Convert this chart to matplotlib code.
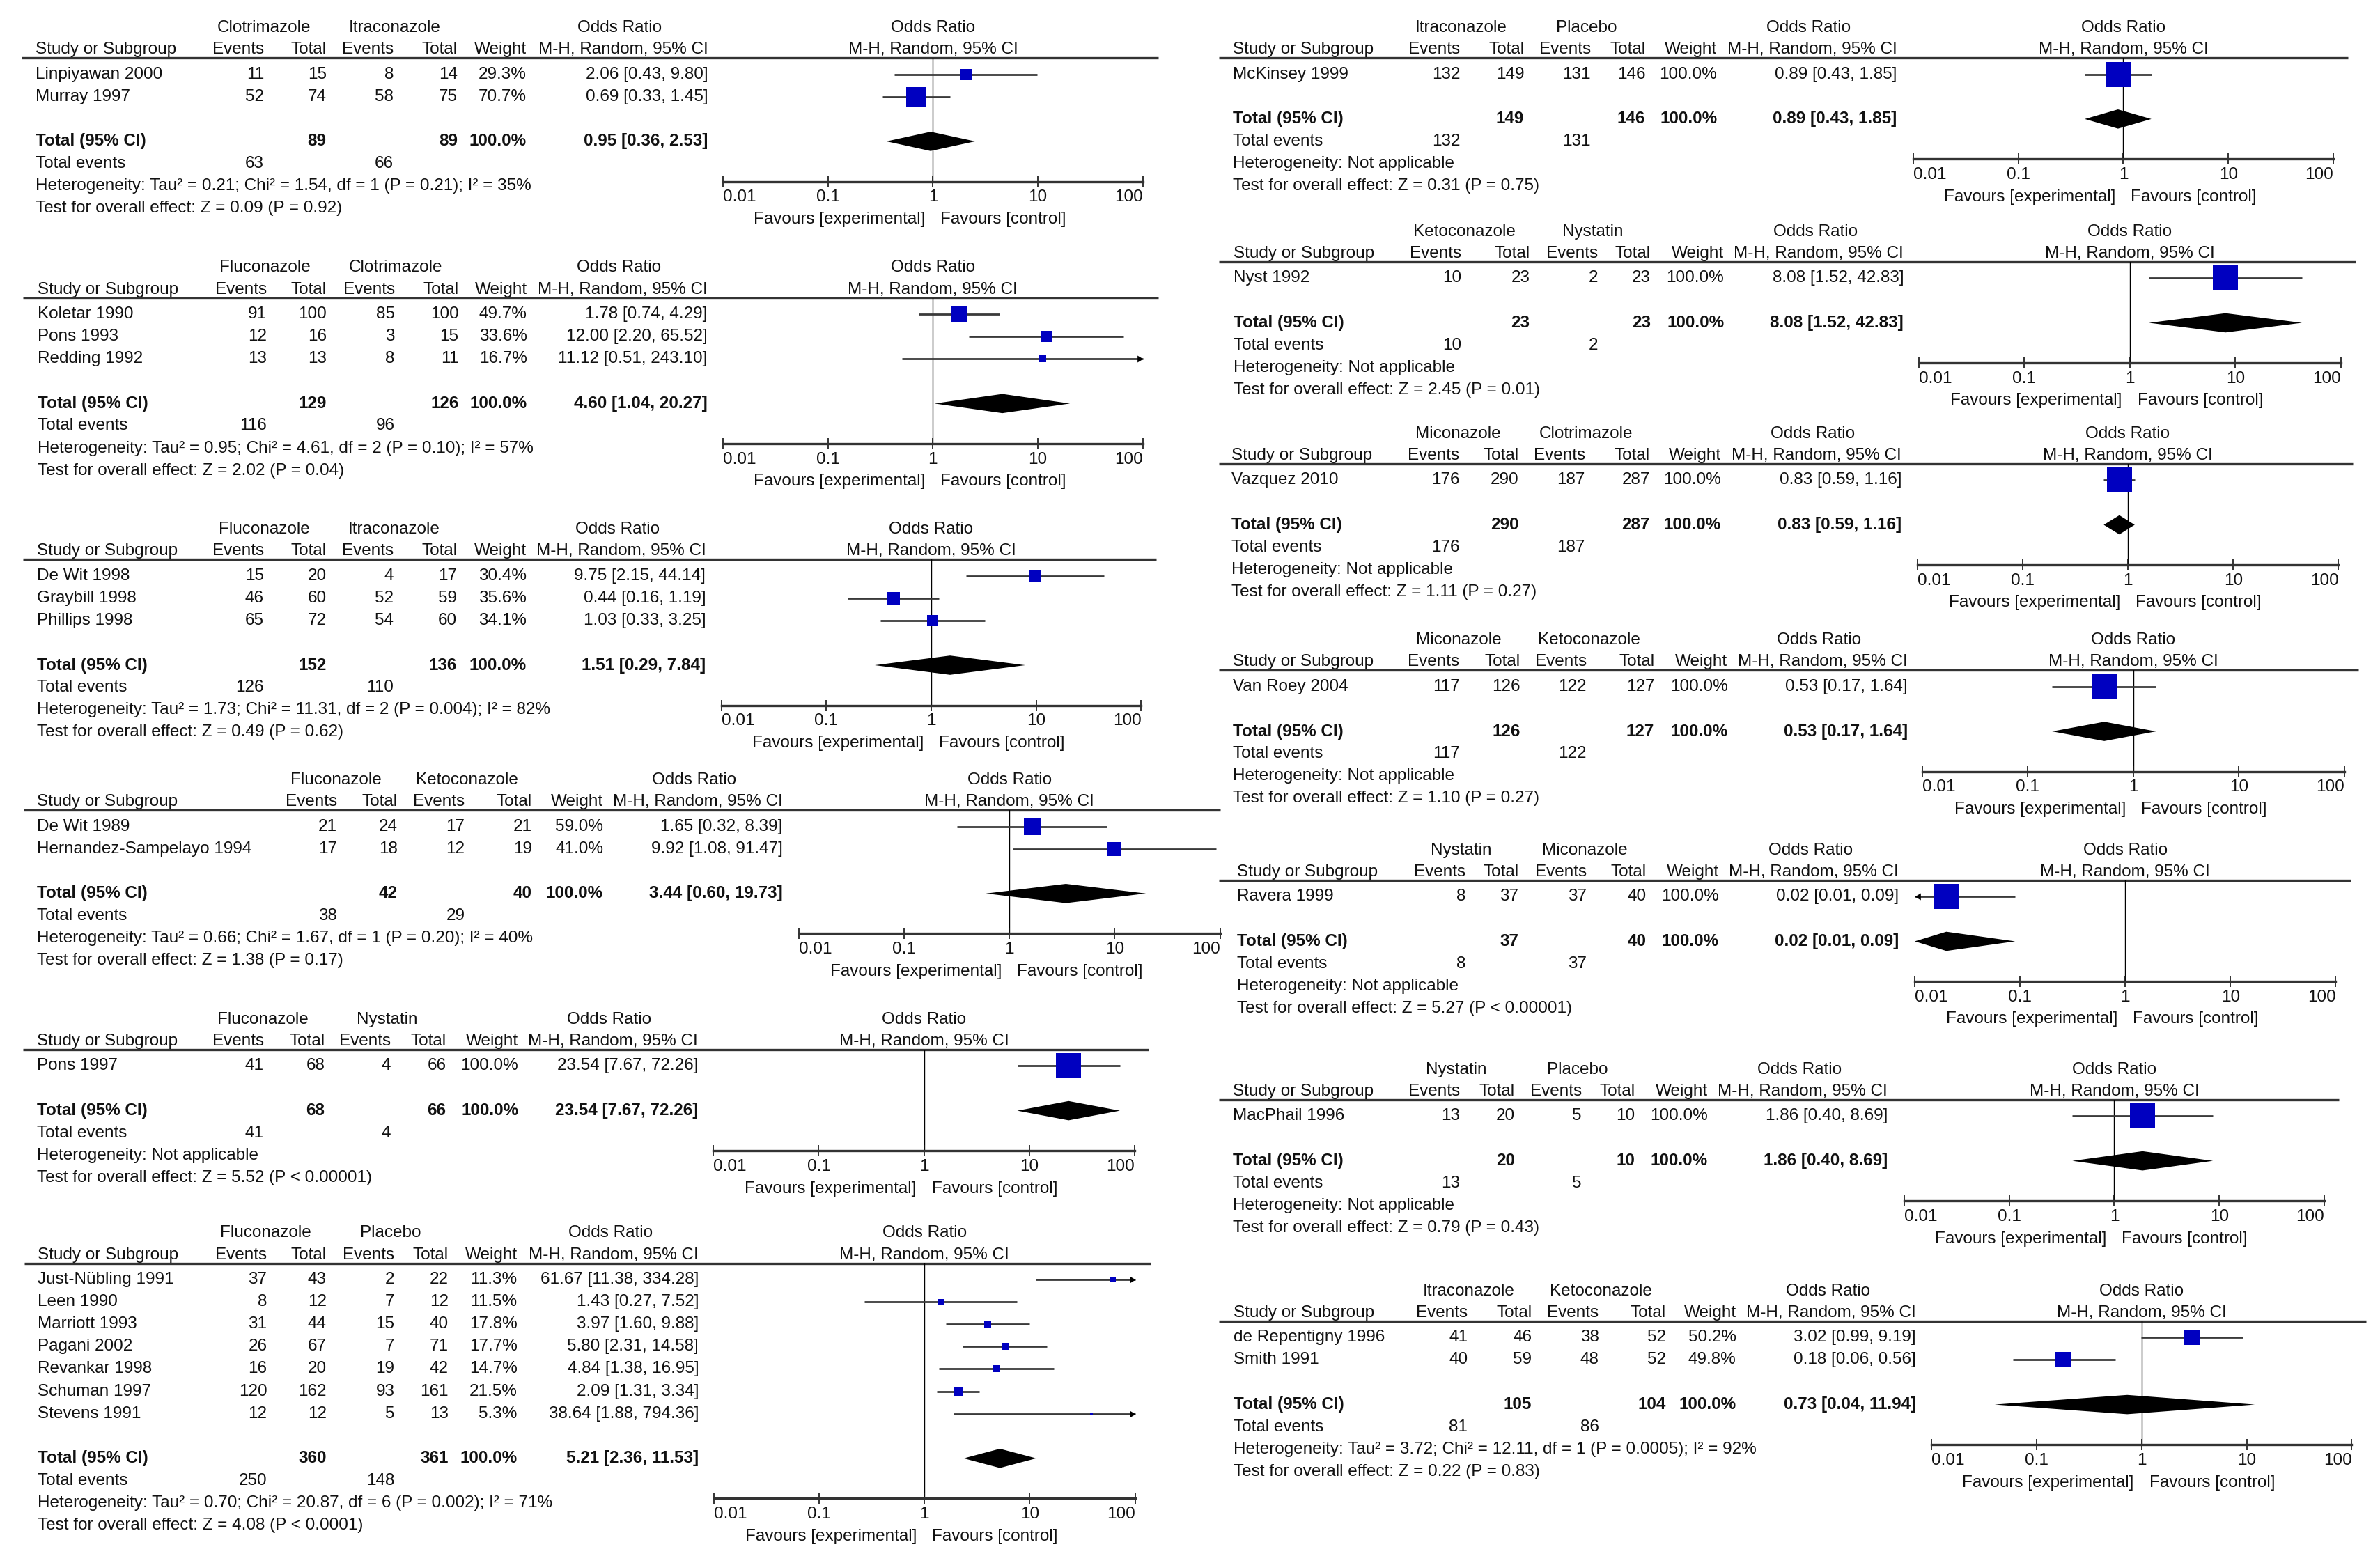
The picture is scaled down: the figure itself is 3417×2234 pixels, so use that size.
import numpy as np
import matplotlib
matplotlib.use("Agg")
import matplotlib.pyplot as plt
from matplotlib.patches import Polygon
from matplotlib.ticker import NullLocator

plt.rcParams["font.family"] = ["Liberation Sans", "DejaVu Sans"]
FS = 17.5
plt.rcParams["font.size"] = FS

# ---------------- data: one block per comparison ----------------
arms_1 = ["Clotrimazole", "Itraconazole"]
study_1 = ["Linpiyawan 2000", "Murray 1997"]
count_1 = [(11, 15, 8, 14), (52, 74, 58, 75)]
wt_1 = [29.3, 70.7]
or_1 = [(2.06, 0.43, 9.80), (0.69, 0.33, 1.45)]
pool_1 = (0.95, 0.36, 2.53)
het_1 = "Tau² = 0.21; Chi² = 1.54, df = 1 (P = 0.21); I² = 35%"
z_1 = "Z = 0.09 (P = 0.92)"

arms_2 = ["Fluconazole", "Clotrimazole"]
study_2 = ["Koletar 1990", "Pons 1993", "Redding 1992"]
count_2 = [(91, 100, 85, 100), (12, 16, 3, 15), (13, 13, 8, 11)]
wt_2 = [49.7, 33.6, 16.7]
or_2 = [(1.78, 0.74, 4.29), (12.00, 2.20, 65.52), (11.12, 0.51, 243.10)]
pool_2 = (4.60, 1.04, 20.27)
het_2 = "Tau² = 0.95; Chi² = 4.61, df = 2 (P = 0.10); I² = 57%"
z_2 = "Z = 2.02 (P = 0.04)"

arms_3 = ["Fluconazole", "Itraconazole"]
study_3 = ["De Wit 1998", "Graybill 1998", "Phillips 1998"]
count_3 = [(15, 20, 4, 17), (46, 60, 52, 59), (65, 72, 54, 60)]
wt_3 = [30.4, 35.6, 34.1]
or_3 = [(9.75, 2.15, 44.14), (0.44, 0.16, 1.19), (1.03, 0.33, 3.25)]
pool_3 = (1.51, 0.29, 7.84)
het_3 = "Tau² = 1.73; Chi² = 11.31, df = 2 (P = 0.004); I² = 82%"
z_3 = "Z = 0.49 (P = 0.62)"

arms_4 = ["Fluconazole", "Ketoconazole"]
study_4 = ["De Wit 1989", "Hernandez-Sampelayo 1994"]
count_4 = [(21, 24, 17, 21), (17, 18, 12, 19)]
wt_4 = [59.0, 41.0]
or_4 = [(1.65, 0.32, 8.39), (9.92, 1.08, 91.47)]
pool_4 = (3.44, 0.60, 19.73)
het_4 = "Tau² = 0.66; Chi² = 1.67, df = 1 (P = 0.20); I² = 40%"
z_4 = "Z = 1.38 (P = 0.17)"

arms_5 = ["Fluconazole", "Nystatin"]
study_5 = ["Pons 1997"]
count_5 = [(41, 68, 4, 66)]
wt_5 = [100.0]
or_5 = [(23.54, 7.67, 72.26)]
pool_5 = (23.54, 7.67, 72.26)
het_5 = None
z_5 = "Z = 5.52 (P < 0.00001)"

arms_6 = ["Fluconazole", "Placebo"]
study_6 = ["Just-Nübling 1991", "Leen 1990", "Marriott 1993", "Pagani 2002",
           "Revankar 1998", "Schuman 1997", "Stevens 1991"]
count_6 = [(37, 43, 2, 22), (8, 12, 7, 12), (31, 44, 15, 40), (26, 67, 7, 71),
           (16, 20, 19, 42), (120, 162, 93, 161), (12, 12, 5, 13)]
wt_6 = [11.3, 11.5, 17.8, 17.7, 14.7, 21.5, 5.3]
or_6 = [(61.67, 11.38, 334.28), (1.43, 0.27, 7.52), (3.97, 1.60, 9.88), (5.80, 2.31, 14.58),
        (4.84, 1.38, 16.95), (2.09, 1.31, 3.34), (38.64, 1.88, 794.36)]
pool_6 = (5.21, 2.36, 11.53)
het_6 = "Tau² = 0.70; Chi² = 20.87, df = 6 (P = 0.002); I² = 71%"
z_6 = "Z = 4.08 (P < 0.0001)"

arms_7 = ["Itraconazole", "Placebo"]
study_7 = ["McKinsey 1999"]
count_7 = [(132, 149, 131, 146)]
wt_7 = [100.0]
or_7 = [(0.89, 0.43, 1.85)]
pool_7 = (0.89, 0.43, 1.85)
het_7 = None
z_7 = "Z = 0.31 (P = 0.75)"

arms_8 = ["Ketoconazole", "Nystatin"]
study_8 = ["Nyst 1992"]
count_8 = [(10, 23, 2, 23)]
wt_8 = [100.0]
or_8 = [(8.08, 1.52, 42.83)]
pool_8 = (8.08, 1.52, 42.83)
het_8 = None
z_8 = "Z = 2.45 (P = 0.01)"

arms_9 = ["Miconazole", "Clotrimazole"]
study_9 = ["Vazquez 2010"]
count_9 = [(176, 290, 187, 287)]
wt_9 = [100.0]
or_9 = [(0.83, 0.59, 1.16)]
pool_9 = (0.83, 0.59, 1.16)
het_9 = None
z_9 = "Z = 1.11 (P = 0.27)"

arms_10 = ["Miconazole", "Ketoconazole"]
study_10 = ["Van Roey 2004"]
count_10 = [(117, 126, 122, 127)]
wt_10 = [100.0]
or_10 = [(0.53, 0.17, 1.64)]
pool_10 = (0.53, 0.17, 1.64)
het_10 = None
z_10 = "Z = 1.10 (P = 0.27)"

arms_11 = ["Nystatin", "Miconazole"]
study_11 = ["Ravera 1999"]
count_11 = [(8, 37, 37, 40)]
wt_11 = [100.0]
or_11 = [(0.02, 0.01, 0.09)]
pool_11 = (0.02, 0.01, 0.09)
het_11 = None
z_11 = "Z = 5.27 (P < 0.00001)"

arms_12 = ["Nystatin", "Placebo"]
study_12 = ["MacPhail 1996"]
count_12 = [(13, 20, 5, 10)]
wt_12 = [100.0]
or_12 = [(1.86, 0.40, 8.69)]
pool_12 = (1.86, 0.40, 8.69)
het_12 = None
z_12 = "Z = 0.79 (P = 0.43)"

arms_13 = ["Itraconazole", "Ketoconazole"]
study_13 = ["de Repentigny 1996", "Smith 1991"]
count_13 = [(41, 46, 38, 52), (40, 59, 48, 52)]
wt_13 = [50.2, 49.8]
or_13 = [(3.02, 0.99, 9.19), (0.18, 0.06, 0.56)]
pool_13 = (0.73, 0.04, 11.94)
het_13 = "Tau² = 3.72; Chi² = 12.11, df = 1 (P = 0.0005); I² = 92%"
z_13 = "Z = 0.22 (P = 0.83)"

TOTAL_WEIGHT = 100.0
TICKS = [0.01, 0.1, 1, 10, 100]
TICKLAB = ["0.01", "0.1", "1", "10", "100"]

# ---------------- layout (in 1560-wide page units) ----------------
# study x, column right edges, x of 0.01 / 100, header-line y, header-line x0/x1
LAYOUT = [
    (23.5, [173, 214, 258, 300, 345, 464], 474, 749, 38, 14, 759),
    (24.5, [174.7, 214, 258.8, 300.6, 345.4, 463.6], 473.8, 749, 195.2, 15, 759),
    (24, [173, 214, 257.8, 299.6, 345, 462.6], 472.8, 748, 366.7, 15, 758),
    (24.4, [221, 260.7, 304.7, 348.8, 395.4, 513], 523.5, 799.7, 531, 15.5, 800),
    (24, [173, 213, 256, 292.4, 339.8, 457.5], 467.6, 743.8, 688, 15, 753),
    (24.5, [175, 214, 258.6, 294, 339, 458], 467.8, 744, 828, 16, 754),
    (808, [957, 999, 1042.6, 1078.5, 1125.5, 1243.5], 1254, 1529.5, 38, 799, 1539),
    (808.6, [958, 1002.8, 1047.4, 1082, 1130, 1247.8], 1257.7, 1534.3, 171.6, 799, 1544),
    (807, [956.7, 995.6, 1039, 1081.5, 1128, 1246.4], 1256.7, 1532.8, 304, 799, 1542),
    (808, [956.7, 996.5, 1040, 1084.4, 1132.4, 1250.3], 1260, 1536.7, 439.4, 799, 1546),
    (811, [960.6, 995.5, 1040, 1079, 1126.6, 1244.6], 1255, 1531, 577, 799, 1541),
    (808, [957, 993, 1036.8, 1071.8, 1119.3, 1237.3], 1248, 1523.6, 720.9, 799, 1533),
    (808.6, [962, 1004, 1048, 1092, 1138, 1256], 1266, 1541.5, 866, 799, 1551),
]
DATA = [
    (arms_1, study_1, count_1, wt_1, or_1, pool_1, het_1, z_1),
    (arms_2, study_2, count_2, wt_2, or_2, pool_2, het_2, z_2),
    (arms_3, study_3, count_3, wt_3, or_3, pool_3, het_3, z_3),
    (arms_4, study_4, count_4, wt_4, or_4, pool_4, het_4, z_4),
    (arms_5, study_5, count_5, wt_5, or_5, pool_5, het_5, z_5),
    (arms_6, study_6, count_6, wt_6, or_6, pool_6, het_6, z_6),
    (arms_7, study_7, count_7, wt_7, or_7, pool_7, het_7, z_7),
    (arms_8, study_8, count_8, wt_8, or_8, pool_8, het_8, z_8),
    (arms_9, study_9, count_9, wt_9, or_9, pool_9, het_9, z_9),
    (arms_10, study_10, count_10, wt_10, or_10, pool_10, het_10, z_10),
    (arms_11, study_11, count_11, wt_11, or_11, pool_11, het_11, z_11),
    (arms_12, study_12, count_12, wt_12, or_12, pool_12, het_12, z_12),
    (arms_13, study_13, count_13, wt_13, or_13, pool_13, het_13, z_13),
]

W = 1560.0
H = W * 2234 / 3417
STEP = 14.65
LINEC = "#333333"
BLUE = "#0000c0"

fig = plt.figure(figsize=(34.17, 22.34), dpi=100)
bg = fig.add_axes([0, 0, 1, 1])
bg.set_xlim(0, W); bg.set_ylim(H, 0); bg.axis("off")


def txt(x, y, s, ha="right", bold=False):
    bg.text(x, y, s, ha=ha, va="center", fontsize=FS,
            fontweight="bold" if bold else "normal", color="#111111")


def cistr(o):
    return f"{o[0]:.2f} [{o[1]:.2f}, {o[2]:.2f}]"


def panel(d, lay):
    arms, study, count, wt, ors, pool, het, z = d
    sx, cols, f0, f100, ly, lx0, lx1 = lay
    e1, n1, e2, n2, cw, cci = cols
    x1 = (f0 + f100) / 2
    # header
    txt((e1 - 35 + n1) / 2 - 3, ly - 19.7, arms[0], "center")
    txt((e2 - 35 + n2) / 2 - 3, ly - 19.7, arms[1], "center")
    txt(cci - 58, ly - 19.7, "Odds Ratio", "center")
    txt(x1, ly - 19.7, "Odds Ratio", "center")
    txt(sx, ly - 5.5, "Study or Subgroup", "left")
    for x, s in zip(cols, ["Events", "Total", "Events", "Total", "Weight", "M-H, Random, 95% CI"]):
        txt(x, ly - 5.5, s)
    txt(x1, ly - 5.5, "M-H, Random, 95% CI", "center")
    bg.plot([lx0, lx1], [ly, ly], color=LINEC, lw=2.4, solid_capstyle="butt")

    cnt = np.array(count)
    ys = ly + 10.7 + STEP * np.arange(len(study))
    for y, s, c, w, o in zip(ys, study, count, wt, ors):
        txt(sx, y, s, "left")
        for x, v in zip(cols[:4], c):
            txt(x, y, str(v))
        txt(cw, y, f"{w:.1f}%")
        txt(cci, y, cistr(o))
    yt = ly + 10.7 + STEP * (len(study) + 1)
    txt(sx, yt, "Total (95% CI)", "left", True)
    txt(n1, yt, str(cnt[:, 1].sum()), bold=True)
    txt(n2, yt, str(cnt[:, 3].sum()), bold=True)
    txt(cw, yt, f"{TOTAL_WEIGHT:.1f}%", bold=True)
    txt(cci, yt, cistr(pool), bold=True)
    txt(sx, yt + STEP, "Total events", "left")
    txt(e1, yt + STEP, str(cnt[:, 0].sum()))
    txt(e2, yt + STEP, str(cnt[:, 2].sum()))
    txt(sx, yt + 2 * STEP, "Heterogeneity: " + (het if het else "Not applicable"), "left")
    txt(sx, yt + 3 * STEP, "Test for overall effect: " + z, "left")

    # forest
    yax = yt + 2 * STEP - 3
    ax = fig.add_axes([f0 / W, 1 - yax / H, (f100 - f0) / W, (yax - ly) / H])
    ax.set_xscale("log")
    ax.set_xlim(0.01, 100)
    ax.set_ylim(yax, ly)
    ax.patch.set_visible(False)
    for s in ("left", "right", "top"):
        ax.spines[s].set_visible(False)
    ax.spines["bottom"].set_linewidth(2.4)
    ax.spines["bottom"].set_color(LINEC)
    ax.set_xticks(TICKS)
    ax.set_xticklabels(TICKLAB)
    ax.xaxis.set_minor_locator(NullLocator())
    ax.set_yticks([])
    ax.tick_params(axis="x", direction="inout", length=11, width=1.2, pad=3,
                   labelsize=FS, colors="#111111")
    labs = ax.get_xticklabels()
    labs[0].set_ha("left"); labs[-1].set_ha("right")
    ax.axvline(1, color="black", lw=1.0, zorder=1)

    for y, w, o in zip(ys, wt, ors):
        lo, hi = max(o[1], 0.01), min(o[2], 100)
        ax.plot([lo, hi], [y, y], color="#3a3a3a", lw=2.0, solid_capstyle="butt",
                zorder=2, clip_on=False)
        if o[2] > 100:
            ax.plot(100, y, marker=[(-1, -0.6), (0, 0), (-1, 0.6)], ms=12,
                    color="black", mew=0, clip_on=False, zorder=3)
        if o[1] <= 0.01:
            ax.plot(0.01, y, marker=[(1, -0.6), (0, 0), (1, 0.6)], ms=12,
                    color="black", mew=0, clip_on=False, zorder=3)
        side = 36 * (w / 100) ** 0.7
        ax.plot(o[0], y, marker="s", ms=side * 0.72, color=BLUE, mew=0,
                zorder=4, clip_on=False)
    est, lo, hi = pool
    ax.add_patch(Polygon([(lo, yt), (est, yt - 6.3), (hi, yt), (est, yt + 6.3)],
                         closed=True, color="black", lw=0, zorder=4, clip_on=False))
    txt(x1 - 5, yax + 24.8, "Favours [experimental]", "right")
    txt(x1 + 5, yax + 24.8, "Favours [control]", "left")


for d, lay in zip(DATA, LAYOUT):
    panel(d, lay)

fig.savefig("out.png", dpi=100, facecolor="white")
